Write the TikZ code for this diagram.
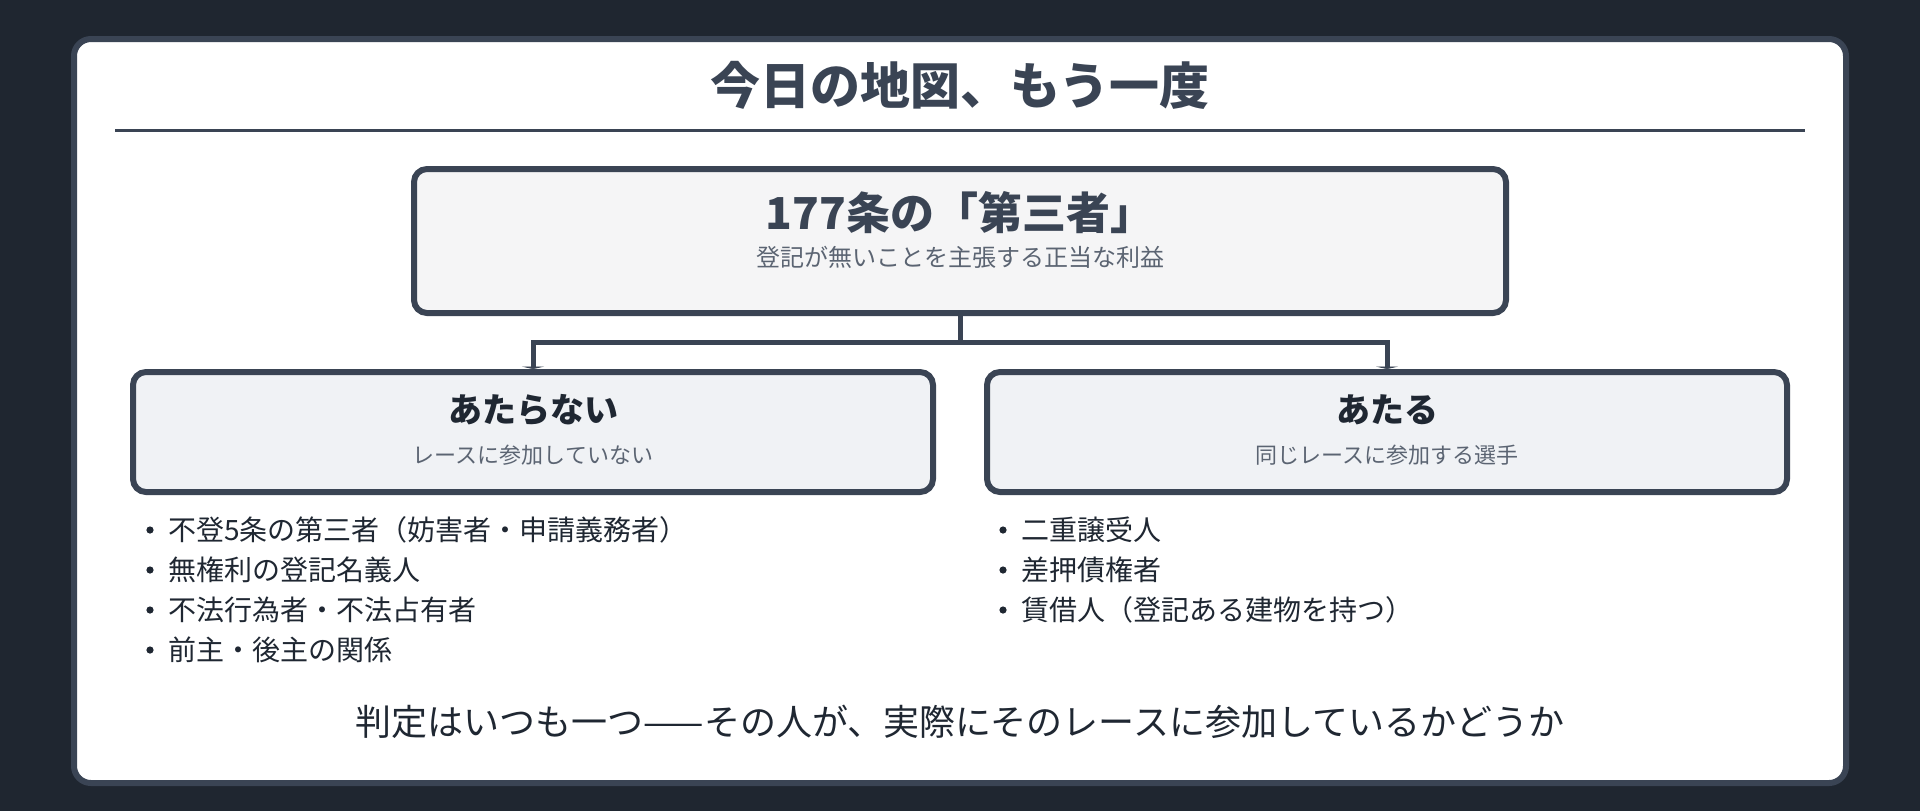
\documentclass[tikz,border=0pt]{standalone}
\usepackage{fontspec}
\setmainfont{Noto Sans CJK JP}
\usetikzlibrary{arrows.meta}

\definecolor{bgdark}{HTML}{1F2630}
\definecolor{slate}{HTML}{3A4454}
\definecolor{inkdark}{HTML}{1F2732}
\definecolor{inkgray}{HTML}{5B6472}
\definecolor{fillTop}{HTML}{F5F5F6}
\definecolor{fillSub}{HTML}{F0F2F5}

\begin{document}
\begin{tikzpicture}[x=0.5pt,y=-0.5pt]

\tikzstyle{card}=[rectangle, draw=slate, fill=white, line width=3pt, rounded corners=8.5pt, minimum width=886pt, minimum height=372pt]
\tikzstyle{box1}=[rectangle, draw=slate, fill=fillTop, line width=3pt, rounded corners=6.5pt, minimum width=546pt, minimum height=72pt]
\tikzstyle{box2}=[rectangle, draw=slate, fill=fillSub, line width=3pt, rounded corners=6.5pt, minimum width=400pt, minimum height=60pt]
\tikzstyle{headline}=[font=\bfseries\fontsize{25}{30}\selectfont, text=slate, inner sep=0pt]
\tikzstyle{boxtitle}=[font=\bfseries\fontsize{22}{26}\selectfont, text=slate, inner sep=0pt]
\tikzstyle{subtitle}=[font=\bfseries\fontsize{17}{20}\selectfont, text=inkdark, inner sep=0pt]
\tikzstyle{note}=[text=inkgray, inner sep=0pt]
\tikzstyle{item}=[anchor=west, font=\fontsize{14}{17}\selectfont, text=inkdark, inner sep=0pt]
\tikzstyle{link}=[draw=slate, line width=2.5pt]
\tikzstyle{arrow}=[link, -{Triangle[width=11pt,length=1.2pt]}]

% background and card
\fill[bgdark] (0,0) rectangle (1920,811);
\node (card) [card] at (960,411) {};

\node (head) [headline] at (960,85) {今日の地図、もう一度};
\coordinate (ruleL) at (115,130);
\coordinate (ruleR) at (1805,130);
\draw [slate, line width=1.5pt] (ruleL) -- (ruleR);

% top box
\node (top) [box1] at (960,241) {};
\node (topT) [boxtitle] at (960,213) {177条の「第三者」};
\node (topS) [note, font=\fontsize{12}{14}\selectfont] at (960,257) {登記が無いことを主張する正当な利益};

% two branches
\node (no) [box2] at (533,432) {};
\node (noT) [subtitle] at (533,410) {あたらない};
\node (noS) [note, font=\fontsize{11}{13}\selectfont] at (533,455) {レースに参加していない};

\node (yes) [box2] at (1387,432) {};
\node (yesT) [subtitle] at (1387,410) {あたる};
\node (yesS) [note, font=\fontsize{11}{13}\selectfont] at (1387,455) {同じレースに参加する選手};

\coordinate (fork) at (960,342.5);
\draw [link] (top.south) -- (fork);
\draw [arrow] (fork) -| (no.north);
\draw [arrow] (fork) -| (yes.north);

% lists
\foreach \txt [count=\i] in {不登5条の第三者（妨害者・申請義務者）, 無権利の登記名義人, 不法行為者・不法占有者, 前主・後主の関係}{
  \fill[inkdark] (150,490+40*\i) circle (3.6);
  \node (noItem\i) [item] at (168,490+40*\i) {\txt};
}
\foreach \txt [count=\i] in {二重譲受人, 差押債権者, 賃借人（登記ある建物を持つ）}{
  \fill[inkdark] (1003,490+40*\i) circle (3.6);
  \node (yesItem\i) [item] at (1021,490+40*\i) {\txt};
}

\node (verdict) [font=\fontsize{18}{22}\selectfont, text=inkdark, inner sep=0pt] at (960,722) {判定はいつも一つ——その人が、実際にそのレースに参加しているかどうか};

\end{tikzpicture}
\end{document}
